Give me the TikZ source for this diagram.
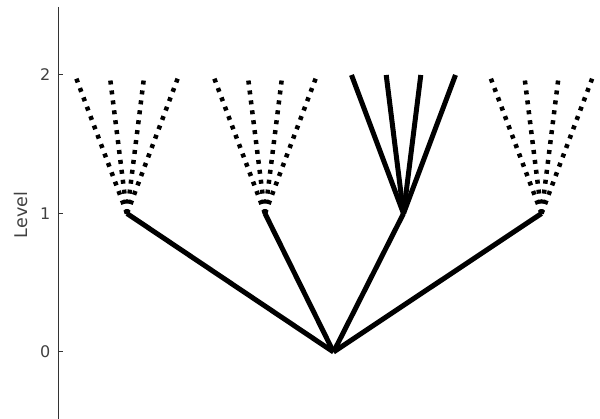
\documentclass[tikz,border=0pt]{standalone}
\usepackage{fontspec}
\setmainfont{DejaVu Sans}
\begin{document}
\begin{tikzpicture}[x=1pt,y=-1pt,
  axiscol/.style={draw=black!80},
  solidedge/.style={line width=5pt,line cap=butt,black},
  dotedge/.style={line width=4.5pt,line cap=butt,black,dash pattern=on 4pt off 6pt},
  ticklab/.style={anchor=east,text=black!75,font=\fontsize{16}{17}\selectfont,inner sep=0pt},
  axlab/.style={rotate=90,text=black!75,font=\fontsize{17.5}{18}\selectfont,inner sep=0pt}]
\useasboundingbox (0,0) rectangle (600,419);
% axis
\coordinate (atop) at (58.3,7);
\coordinate (abot) at (58.3,419);
\draw[axiscol,line width=1.3pt] (atop) -- (abot);
\foreach \n/\y in {0/352,1/213.5,2/75}{
  \coordinate (t\n) at (58.3,\y);
  \draw[axiscol,line width=1pt] (t\n) -- ++(4.5,0);
  \node[ticklab] (tl\n) at (50.5,\y) {\n};
}
\node[axlab] (ylab) at (20.5,215) {Level};
% tree
\coordinate (r) at (333.5,352);
\foreach \i/\x in {1/127,2/265,3/403.5,4/541.5}{
  \coordinate (a\i) at (\x,213.5);
  \foreach \j/\o in {1/-52,2/-17.3,3/17.3,4/52}{
    \coordinate (a\i l\j) at (\x+\o,75);
  }
}
\foreach \i in {1,2,3,4}{ \draw[solidedge] (r) -- (a\i); }
\foreach \i in {1,2,4}{
  \foreach \j in {1,2,3,4}{ \draw[dotedge] (a\i) -- (a\i l\j); }
}
\foreach \j in {1,2,3,4}{ \draw[solidedge] (a3) -- (a3l\j); }
\end{tikzpicture}
\end{document}
